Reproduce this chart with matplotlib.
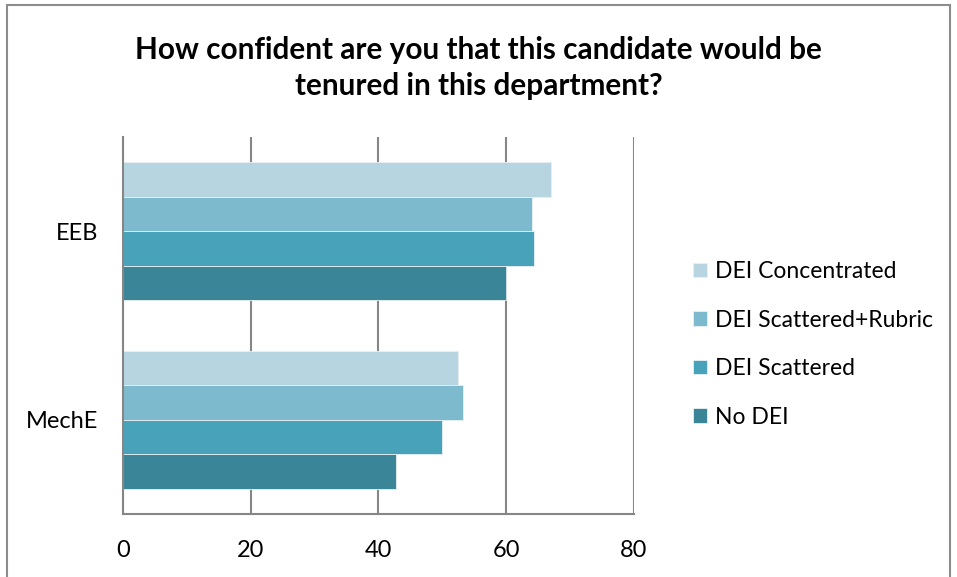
import matplotlib.pyplot as plt
import numpy as np
from matplotlib.patches import Rectangle

plt.rcParams["font.family"] = ["Lato", "DejaVu Sans"]

categories = ["MechE", "EEB"]
series = ["DEI Concentrated", "DEI Scattered+Rubric", "DEI Scattered", "No DEI"]
values = {
    "DEI Concentrated": [52.4, 67.0],
    "DEI Scattered+Rubric": [53.3, 64.1],
    "DEI Scattered": [49.9, 64.4],
    "No DEI": [42.7, 60.0],
}
colors = ["#B7D5E0", "#7EBACE", "#48A2BA", "#3A8698"]
xticks = [0, 20, 40, 60, 80]

fig = plt.figure(figsize=(9.57, 5.77), dpi=100)
ax = fig.add_axes([0.1285, 0.1092, 0.534, 0.6534])

y = np.arange(len(categories))
h = 0.1825
offsets = [1.5 * h, 0.5 * h, -0.5 * h, -1.5 * h]
for name, off, col in zip(series, offsets, colors):
    ax.barh(y + off, values[name], height=h, color=col, edgecolor="#E8F1F4",
            linewidth=0.6, label=name, zorder=2)

ax.set_xlim(0, 80)
ax.set_ylim(-0.5, 1.5)
ax.set_xticks(xticks)
ax.set_yticks(y)
ax.set_yticklabels(categories)
ax.tick_params(axis="x", length=0, pad=19, labelsize=17)
ax.tick_params(axis="y", length=0, pad=18, labelsize=17)
ax.grid(axis="x", color="#868686", linewidth=1.5, zorder=0)
for s in ["top", "right"]:
    ax.spines[s].set_visible(False)
for s in ["left", "bottom"]:
    ax.spines[s].set_color("#868686")
    ax.spines[s].set_linewidth(1.5)

fig.text(0.5, 0.882, "How confident are you that this candidate would be\ntenured in this department?",
         ha="center", va="center", fontsize=21.4, fontweight="bold", linespacing=1.35)

ax.legend(loc="center left", bbox_to_anchor=(1.075, 0.45), frameon=False, fontsize=16.5,
          handlelength=0.6, handleheight=0.6, handletextpad=0.35, labelspacing=1.2)

fig.patches.append(Rectangle((7 / 957, -0.05), 943 / 957, 1.05 - 5 / 577, transform=fig.transFigure,
                             fill=False, edgecolor="#8C8C8C", linewidth=1.5))

fig.savefig("out.png", dpi=100)
